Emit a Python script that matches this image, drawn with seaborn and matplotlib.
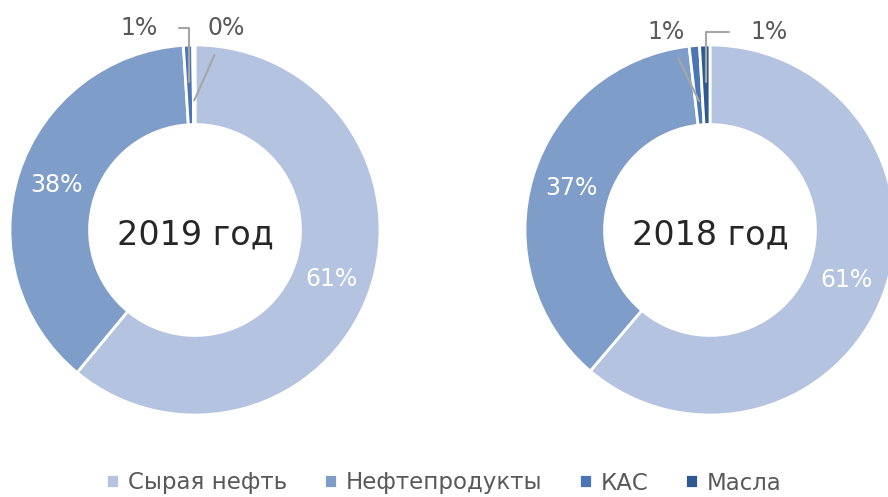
import numpy as np
import seaborn as sb
import matplotlib.pyplot as plt

# Data
categories = ["Сырая нефть", "Нефтепродукты", "КАС", "Масла"]
years = ["2019 год", "2018 год"]
share_2019 = [61.0, 38.0, 0.8, 0.2]
share_2018 = [61.2, 37.0, 0.9, 0.9]
colors = ["#b4c3df", "#7f9dc9", "#4a75b6", "#2e5a94"]

sb.set_style("white")
plt.rcParams['font.family'] = ['DejaVu Sans']

W, H = 888, 497
fig = plt.figure(figsize=(W / 100, H / 100), dpi=100)

R = 185
centers = [(195, 230), (710, 230)]
# label positions (axes data units) for the two small slices
small_pos = {
    0: [(-0.30, 1.09), (0.17, 1.09)],
    1: [(-0.24, 1.07), (0.32, 1.07)],
}
# leader line shape: bent (horizontal then down) or straight
small_conn = {
    0: ["angle,angleA=0,angleB=90,rad=0", "arc3,rad=0"],
    1: ["arc3,rad=0", "angle,angleA=0,angleB=90,rad=0"],
}
text_grey = "#595959"

for k, (vals, year) in enumerate(zip([share_2019, share_2018], years)):
    cx, cy = centers[k]
    ax = fig.add_axes([(cx - R) / W, (H - cy - R) / H, 2 * R / W, 2 * R / H])
    wedges, _ = ax.pie(vals, colors=colors, startangle=90, counterclock=False,
                       radius=1.0,
                       wedgeprops=dict(width=0.43, edgecolor="white", linewidth=2))
    ax.set_xlim(-1, 1)
    ax.set_ylim(-1, 1)
    ax.set_aspect("equal")
    ax.axis("off")

    total = sum(vals)
    cum = np.cumsum([0] + vals[:-1])
    for i, v in enumerate(vals):
        theta = np.deg2rad(90 - 360 * (cum[i] + v / 2) / total)
        label = f"{v:.0f}%"
        if i < 2:
            r = 0.785
            ax.text(r * np.cos(theta), r * np.sin(theta), label, color="white",
                    fontsize=17, ha="center", va="center")
        else:
            tx, ty = small_pos[k][i - 2]
            bent = small_conn[k][i - 2].startswith("angle")
            r = 0.8 if bent else 0.7
            ax.annotate(label, xy=(r * np.cos(theta), r * np.sin(theta)),
                        xytext=(tx, ty), color=text_grey, fontsize=17,
                        ha="center", va="center",
                        arrowprops=dict(arrowstyle="-", color="#a6a6a6", lw=1.5,
                                        shrinkA=13 if bent else 9, shrinkB=0,
                                        connectionstyle=small_conn[k][i - 2]))
    ax.text(0, -0.03, year, fontsize=24, ha="center", va="center", color="#262626")

fig.legend(wedges, categories, loc="center", bbox_to_anchor=(0.5, 1 - 483 / H),
           ncol=4, frameon=False, fontsize=16.5, handlelength=0.55, handleheight=0.55,
           handletextpad=0.4, columnspacing=1.6, labelcolor=text_grey)

plt.savefig("out.png", dpi=100)
